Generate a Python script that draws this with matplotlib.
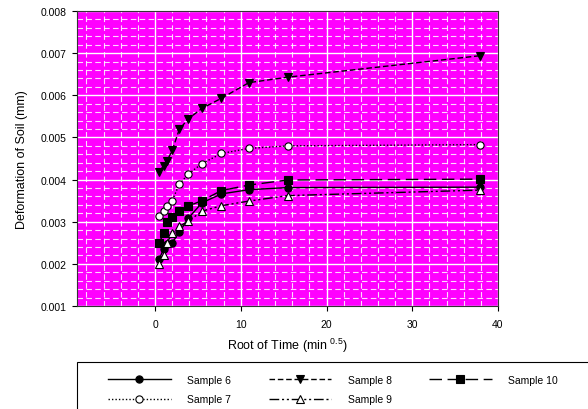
import matplotlib
matplotlib.use("Agg")
import matplotlib.pyplot as plt
from matplotlib.ticker import MultipleLocator, FormatStrFormatter
from matplotlib.lines import Line2D
from matplotlib.patches import Rectangle

plt.rcParams['font.family'] = ['Liberation Sans', 'DejaVu Sans']
plt.rcParams['mathtext.default'] = 'regular'

root_time = [0.5, 1.0, 1.41, 2.0, 2.83, 3.87, 5.48, 7.75, 10.95, 15.49, 37.95]
sample6 = [0.00212, 0.00235, 0.00248, 0.00250, 0.00275, 0.00308, 0.00345, 0.00366, 0.00376, 0.00381, 0.00382]
sample7 = [0.00313, 0.00325, 0.00338, 0.00350, 0.00389, 0.00413, 0.00438, 0.00462, 0.00474, 0.00480, 0.00483]
sample8 = [0.00419, 0.00433, 0.00445, 0.00469, 0.00519, 0.00544, 0.00569, 0.00593, 0.00630, 0.00643, 0.00694]
sample9 = [0.00199, 0.00222, 0.00250, 0.00273, 0.00289, 0.00301, 0.00325, 0.00338, 0.00349, 0.00362, 0.00375]
sample10 = [0.00250, 0.00274, 0.00300, 0.00312, 0.00325, 0.00337, 0.00350, 0.00374, 0.00387, 0.00399, 0.00401]
labels = ["Sample 6", "Sample 7", "Sample 8", "Sample 9", "Sample 10"]

W, H = 588, 410
fig = plt.figure(figsize=(W/100, H/100), dpi=100)
ax = fig.add_axes([77/W, 1-307/H, (498-77)/W, (307-12)/H])
ax.set_facecolor('#ff00ff')

styles = [
    dict(ls='-', marker='o', mfc='black', mec='black'),
    dict(ls=(0, (1, 1.5)), marker='o', mfc='white', mec='black'),
    dict(ls=(0, (4, 2)), marker='v', mfc='black', mec='black'),
    dict(ls=(0, (7, 2, 1.5, 2, 1.5, 2)), marker='^', mfc='white', mec='black'),
    dict(ls=(0, (9, 4)), marker='s', mfc='black', mec='black'),
]
series = [sample6, sample7, sample8, sample9, sample10]
for ys, st, lab in zip(series, styles, labels):
    ax.plot(root_time, ys, color='black', lw=1.0, ms=5.2, mew=0.8,
            label=lab, zorder=3, **st)

ax.set_xlim(-9.1, 40)
ax.set_ylim(0.001, 0.008)
ax.xaxis.set_major_locator(MultipleLocator(10))
ax.xaxis.set_minor_locator(MultipleLocator(2))
ax.yaxis.set_major_locator(MultipleLocator(0.001))
ax.yaxis.set_minor_locator(MultipleLocator(0.0002))
ax.set_xticks([0, 10, 20, 30, 40])
ax.grid(which='major', color='white', lw=1.0, ls='-', zorder=1)
ax.grid(which='minor', color='white', lw=0.8, ls=(0, (5, 3)), alpha=0.85, zorder=1)
ax.set_axisbelow(True)
ax.tick_params(which='minor', length=0)
ax.tick_params(which='major', direction='out', length=3.5, labelsize=7.5, width=0.8)
ax.tick_params(axis='x', pad=6)
ax.tick_params(axis='y', pad=4)
ax.yaxis.set_major_formatter(FormatStrFormatter('%.3f'))
for s in ax.spines.values():
    s.set_linewidth(0.8)
    s.set_color('#333333')

ax.set_xlabel('Root of Time (min $^{0.5}$)', fontsize=9, labelpad=5)
ax.set_ylabel('Deformation of Soil (mm)', fontsize=9, labelpad=9)

# legend frame drawn as a rectangle extending past the right edge
fig.patches.append(Rectangle((77/W, -0.05), 1.0, (1-363/H) + 0.05,
                             transform=fig.transFigure, fill=False,
                             edgecolor='black', lw=0.8, clip_on=False))

leg_handles = [Line2D([0], [0], color='black', lw=1.0, ms=5.2, mew=0.8, **st)
               for st in styles]
leg = fig.legend(leg_handles, labels, ncol=3, loc='upper left',
                 bbox_to_anchor=(108/W, 1-376/H),
                 fontsize=7.5, frameon=False,
                 handlelength=6.0, columnspacing=3.6, handletextpad=1.6,
                 labelspacing=0.9, borderpad=0.0, borderaxespad=0)

fig.savefig('out.png', dpi=100)
